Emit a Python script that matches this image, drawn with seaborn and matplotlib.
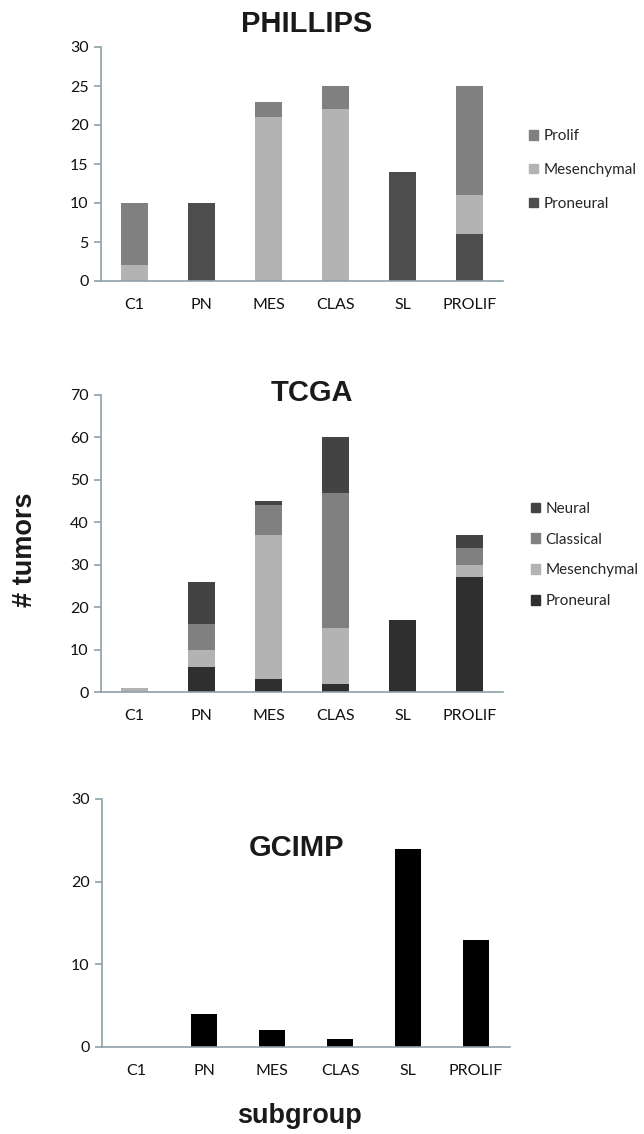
import numpy as np
import pandas as pd
import matplotlib
matplotlib.use("Agg")
import matplotlib.pyplot as plt
from matplotlib.patches import Patch
import seaborn as sns

# Data
groups = ["C1", "PN", "MES", "CLAS", "SL", "PROLIF"]

# PHILLIPS (bottom -> top)
ph_proneural = [0, 10, 0, 0, 14, 6]
ph_mesenchymal = [2, 0, 21, 22, 0, 5]
ph_prolif = [8, 0, 2, 3, 0, 14]

# TCGA (bottom -> top)
tc_proneural = [0, 6, 3, 2, 17, 27]
tc_mesenchymal = [1, 4, 34, 13, 0, 3]
tc_classical = [0, 6, 7, 32, 0, 4]
tc_neural = [0, 10, 1, 13, 0, 3]

# GCIMP
gcimp = [0, 4, 2, 1, 24, 13]

sns.set_style("white")
plt.rcParams["font.family"] = ["Lato", "DejaVu Sans"]

spine_col = "#8fa1a9"
W, H = 644, 1134
fig = plt.figure(figsize=(W / 100, H / 100), dpi=100)


def px_axes(left, top, right, bottom):
    return fig.add_axes([left / W, (H - bottom) / H, (right - left) / W, (bottom - top) / H])


def stacked(ax, layers, colors):
    # draw cumulative totals from the top layer down so each layer shows
    cum = np.cumsum(np.array(layers), axis=0)
    for i in range(len(layers) - 1, -1, -1):
        df = pd.DataFrame({"group": groups, "value": cum[i]})
        sns.barplot(data=df, x="group", y="value", order=groups, color=colors[i],
                    saturation=1, width=0.39, linewidth=0, ax=ax)


def style(ax, ymax, step):
    ax.set_xlim(-0.5, 5.5)
    ax.set_ylim(0, ymax)
    ax.set_yticks(np.arange(0, ymax + 1, step))
    ax.set_xticks(range(6))
    ax.set_xticks(np.arange(-0.5, 6, 1), minor=True)
    ax.set_xticklabels(groups)
    ax.set_xlabel("")
    ax.set_ylabel("")
    for s in ["top", "right"]:
        ax.spines[s].set_visible(False)
    for s in ["left", "bottom"]:
        ax.spines[s].set_color(spine_col)
        ax.spines[s].set_linewidth(1.2)
    ax.tick_params(axis="x", which="major", length=0, pad=12, labelsize=11.5, colors="#111111")
    ax.tick_params(axis="x", which="minor", length=5, width=1.2, color=spine_col, direction="out")
    ax.tick_params(axis="y", which="major", length=5, width=1.2, color=spine_col, pad=4,
                   labelsize=11.5, labelcolor="#111111", left=True)
    ax.grid(False)


# PHILLIPS
ax1 = px_axes(101, 47, 503, 281)
ph_cols = ["#4d4d4d", "#b3b3b3", "#808080"]
stacked(ax1, [ph_proneural, ph_mesenchymal, ph_prolif], ph_cols)
style(ax1, 30, 5)
h1 = [Patch(color=ph_cols[2], label="Prolif"),
      Patch(color=ph_cols[1], label="Mesenchymal"),
      Patch(color=ph_cols[0], label="Proneural")]
fig.legend(handles=h1, loc="center left", bbox_to_anchor=(523 / W, (H - 170) / H),
           frameon=False, fontsize=11, handlelength=0.6, handleheight=0.6,
           handletextpad=0.35, labelspacing=1.3, borderaxespad=0)
fig.text(307 / W, (H - 24) / H, "PHILLIPS", ha="center", va="center",
         fontsize=21, fontweight="bold", family="Liberation Sans", color="#1a1a1a")

# TCGA
ax2 = px_axes(101, 395, 503, 692)
tc_cols = ["#2f2f2f", "#b3b3b3", "#808080", "#434343"]
stacked(ax2, [tc_proneural, tc_mesenchymal, tc_classical, tc_neural], tc_cols)
style(ax2, 70, 10)
h2 = [Patch(color=tc_cols[3], label="Neural"),
      Patch(color=tc_cols[2], label="Classical"),
      Patch(color=tc_cols[1], label="Mesenchymal"),
      Patch(color=tc_cols[0], label="Proneural")]
fig.legend(handles=h2, loc="center left", bbox_to_anchor=(525 / W, (H - 555) / H),
           frameon=False, fontsize=11, handlelength=0.6, handleheight=0.6,
           handletextpad=0.35, labelspacing=1.1, borderaxespad=0)
fig.text(312 / W, (H - 393) / H, "TCGA", ha="center", va="center",
         fontsize=21, fontweight="bold", family="Liberation Sans", color="#1a1a1a")

# GCIMP
ax3 = px_axes(102, 799, 510, 1047)
df3 = pd.DataFrame({"group": groups, "value": gcimp})
sns.barplot(data=df3, x="group", y="value", order=groups, color="black",
            saturation=1, width=0.39, linewidth=0, ax=ax3)
style(ax3, 30, 10)
fig.text(297 / W, (H - 848) / H, "GCIMP", ha="center", va="center",
         fontsize=21, fontweight="bold", family="Liberation Sans", color="#1a1a1a")

# shared labels
fig.text(25 / W, (H - 550) / H, "# tumors", rotation=90, ha="center", va="center",
         fontsize=19.5, fontweight="bold", family="Liberation Sans", color="#1a1a1a")
fig.text(299 / W, (H - 1116) / H, "subgroup", ha="center", va="center",
         fontsize=19.5, fontweight="bold", family="Liberation Sans", color="#1a1a1a")

fig.savefig("out.png", dpi=100, facecolor="white")
